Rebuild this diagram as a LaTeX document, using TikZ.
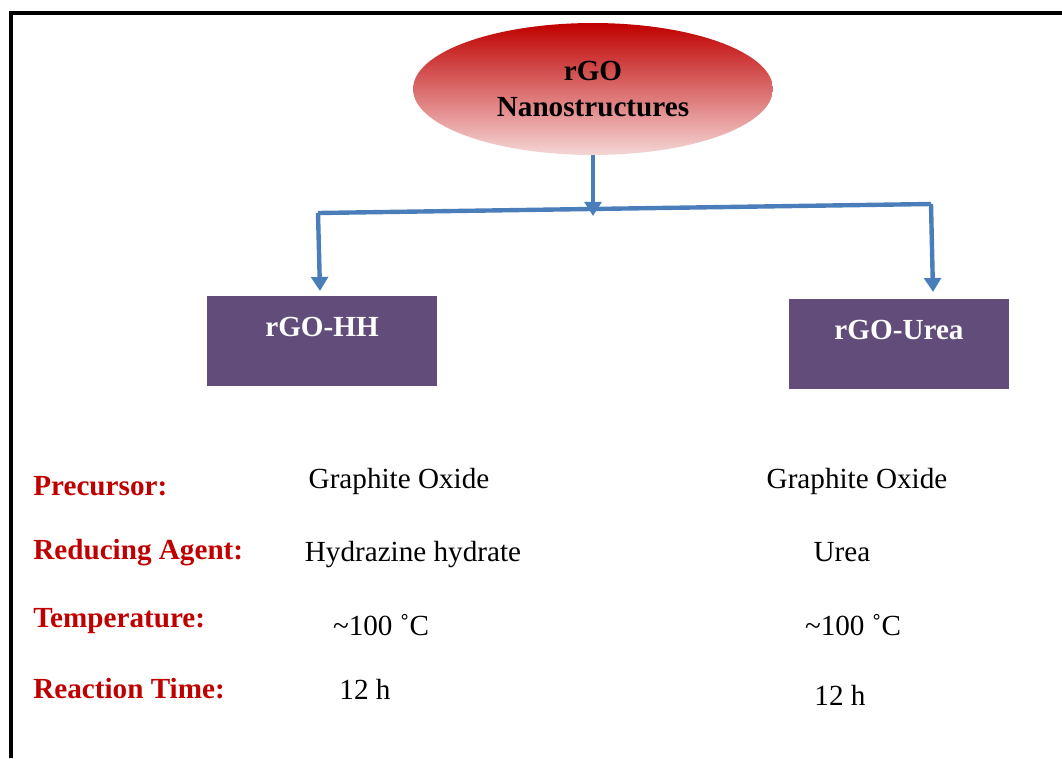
\documentclass[tikz,border=0pt]{standalone}
\usepackage{fontspec}
\setmainfont{Liberation Serif}
\usepackage{xcolor}
\usetikzlibrary{shapes.geometric,arrows.meta,positioning}

\definecolor{ellred}{RGB}{192,0,0}
\definecolor{ellpink}{RGB}{245,214,214}
\definecolor{boxpurple}{RGB}{97,76,122}
\definecolor{linkblue}{RGB}{74,126,187}
\definecolor{labred}{RGB}{192,0,0}

\begin{document}
\begin{tikzpicture}[x=0.02cm, y=-0.02cm, font=\fontsize{16.6}{20}\selectfont,
    link/.style={draw=linkblue, line width=2.5pt},
    tip/.style={-{Triangle[width=9.5pt,length=8pt]}},
    sample/.style={rectangle, fill=boxpurple, minimum width=4.6cm, minimum height=1.8cm, inner sep=0pt},
    sampletxt/.style={text=white, font=\fontsize{16.6}{20}\selectfont\bfseries},
    param/.style={text=labred, font=\fontsize{16.6}{20}\selectfont\bfseries, anchor=west, inner sep=0pt}]
            \useasboundingbox (0,0) rectangle (1062,758);
            \draw[line width=2.8pt] (11,758)--(11,13)--(1062,13);
            \node (top) at (593,89) [ellipse, minimum width=7.2cm, minimum height=2.64cm, inner sep=0pt,
                top color=ellred, middle color=ellred!65!ellpink, bottom color=ellpink,
                align=center, font=\fontsize{16.6}{20}\selectfont\bfseries] {rGO\\Nanostructures};
            \node (hh) at (322,341) [sample] {};
            \node (hht) at (322,327) [sampletxt] {rGO-HH};
            \node (urea) at (899,344) [sample, minimum width=4.4cm] {};
            \node (ureat) at (899,330) [sampletxt] {rGO-Urea};
            \coordinate (lj) at (318,213);
            \coordinate (rj) at (931,204);
            \coordinate (mid) at (593,216);
            \draw[link] (lj)--(rj);
            \draw[link, tip] (top.south)--(mid);
            \draw[link, tip] (lj)--(320,291);
            \draw[link, tip] (rj)--(933,292);
            \foreach \y/\name/\lab in {486/pre/Precursor:, 553/red/Reducing Agent:, 621/temp/Temperature:, 689/time/Reaction Time:}
                \node (\name) at (33,\y) [param] {\lab};
            \foreach \x/\y/\name/\val in {399/481/hhpre/Graphite Oxide, 413/555/hhred/Hydrazine hydrate,
                381/625/hhtemp/{\textasciitilde100 ˚C}, 365/689/hhtime/12 h,
                857/481/upre/Graphite Oxide, 842/552/ured/Urea,
                853/625/utemp/{\textasciitilde100 ˚C}, 840/695/utime/12 h}
                \node (\name) at (\x,\y) {\val};
        \end{tikzpicture}
\end{document}
